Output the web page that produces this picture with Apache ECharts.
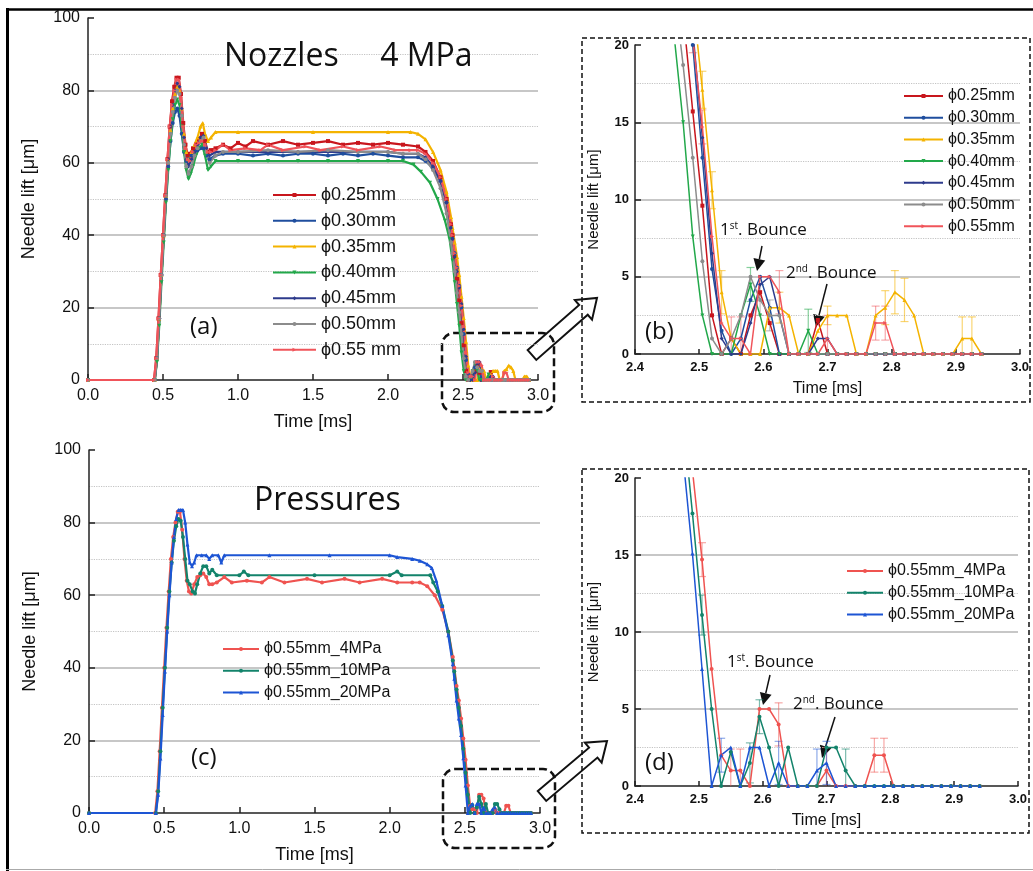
<!DOCTYPE html>
<html>
<head>
<meta charset="utf-8">
<title>Needle lift</title>
<script src="https://cdn.jsdelivr.net/npm/echarts@6/dist/echarts.min.js"></script>
</head>
<body style="margin:0;background:#fff">
<div id="main" style="width:1033px;height:871px;"></div>
<script type="text/javascript">

// ---- data ----
var nozzleNames = ['ϕ0.25mm', 'ϕ0.30mm', 'ϕ0.35mm', 'ϕ0.40mm', 'ϕ0.45mm', 'ϕ0.50mm', 'ϕ0.55mm'];
var nozzleNamesMain = ['ϕ0.25mm', 'ϕ0.30mm', 'ϕ0.35mm', 'ϕ0.40mm', 'ϕ0.45mm', 'ϕ0.50mm', 'ϕ0.55 mm'];
var pressureNames = ['ϕ0.55mm_4MPa', 'ϕ0.55mm_10MPa', 'ϕ0.55mm_20MPa'];

// closing / bounce region sample times [ms]
var tTail = [2.445,2.46,2.475,2.49,2.505,2.52,2.535,2.55,2.565,2.58,2.595,2.61,2.625,2.64,2.655,2.67,2.685,2.7,
             2.715,2.73,2.745,2.76,2.775,2.79,2.805,2.82,2.835,2.85,2.865,2.88,2.895,2.91,2.925,2.94];

// opening + plateau [t, lift]
var body025 = [[0,0],[0.44,0],[0.455,6],[0.47,17],[0.485,29],[0.5,40],[0.515,51],[0.53,61],[0.545,70],[0.56,77],[0.575,81],[0.59,83.5],[0.605,83.5],[0.62,79],[0.635,71],[0.65,65],[0.665,62],[0.68,62.5],[0.7,64],[0.72,65],[0.74,66.5],[0.76,68],[0.78,66],[0.8,63],[0.82,63.5],[0.85,64],[0.9,65],[0.95,64],[1.0,65.5],[1.05,64.5],[1.1,66],[1.2,65],[1.3,66],[1.4,65],[1.5,65.5],[1.6,66],[1.7,65],[1.8,65.5],[1.9,65],[2.0,65.5],[2.1,65],[2.2,64.5],[2.25,63],[2.3,60.5],[2.35,56],[2.39,50],[2.42,43],[2.43,40]];
var body030 = [[0,0],[0.445,0],[0.46,6],[0.475,17],[0.49,29],[0.505,40],[0.52,50],[0.535,59],[0.55,66],[0.565,71],[0.58,74],[0.595,75],[0.61,73],[0.625,68],[0.64,63],[0.655,60.5],[0.67,61],[0.69,62],[0.71,63],[0.73,63.5],[0.75,64],[0.77,64],[0.79,62],[0.81,61],[0.85,62],[0.9,62.5],[1.0,62.5],[1.1,62],[1.2,62.5],[1.3,62],[1.4,62.5],[1.5,62.5],[1.6,62],[1.7,62.5],[1.8,62],[1.9,62.5],[2.0,62],[2.1,61.5],[2.2,61.5],[2.25,60.5],[2.3,58.5],[2.35,55],[2.39,49],[2.42,42],[2.43,39]];
var body035 = [[0,0],[0.445,0],[0.46,6],[0.475,17],[0.49,29],[0.505,40],[0.52,51],[0.535,61],[0.55,69],[0.565,75],[0.58,79],[0.595,81],[0.61,80],[0.625,75],[0.64,68],[0.655,63],[0.67,61],[0.69,63],[0.71,65],[0.73,67],[0.75,70],[0.765,71],[0.78,68],[0.8,66],[0.82,67],[0.85,68.5],[1.0,68.5],[1.5,68.5],[2.0,68.5],[2.15,68.5],[2.2,68],[2.25,66.5],[2.3,63],[2.35,58],[2.39,52],[2.42,45],[2.43,42]];
var body040 = [[0,0],[0.445,0],[0.46,5],[0.475,15],[0.49,27],[0.505,38],[0.52,49],[0.535,58],[0.55,66],[0.565,72],[0.58,76],[0.595,77.5],[0.61,76],[0.625,70],[0.64,63],[0.655,58],[0.67,55.5],[0.685,57],[0.7,59],[0.72,62],[0.74,64],[0.76,65],[0.78,62],[0.8,58],[0.82,59],[0.85,60.5],[1.0,60.5],[1.2,60.5],[1.4,60.5],[1.6,60.5],[1.8,60.5],[2.0,60.5],[2.1,60.5],[2.17,59.5],[2.22,57.5],[2.28,54.5],[2.33,50],[2.38,44],[2.41,39],[2.43,33]];
var body045 = [[0,0],[0.445,0],[0.46,6],[0.475,17],[0.49,29],[0.505,40],[0.52,51],[0.535,61],[0.55,70],[0.565,76],[0.58,80],[0.595,82],[0.61,81],[0.625,75],[0.64,67],[0.655,61],[0.67,59],[0.69,61],[0.71,63],[0.73,65],[0.75,67],[0.77,67.5],[0.79,64],[0.81,62],[0.85,63],[1.0,63],[1.2,63],[1.4,63],[1.6,63],[1.8,63],[2.0,63],[2.1,62.5],[2.2,62.5],[2.25,61.5],[2.3,59],[2.35,55],[2.39,49],[2.42,42],[2.43,39]];
var body050 = [[0,0],[0.445,0],[0.46,6],[0.475,17],[0.49,29],[0.505,40],[0.52,51],[0.535,60],[0.55,68],[0.565,74],[0.58,78],[0.595,80],[0.61,79],[0.625,73],[0.64,65],[0.655,59],[0.67,57],[0.69,59],[0.71,62],[0.73,64],[0.75,66],[0.77,67],[0.79,63],[0.81,60],[0.85,62],[0.9,63],[1.0,63],[1.2,63.5],[1.4,63],[1.6,63.5],[1.8,63],[2.0,63],[2.1,62.5],[2.2,62.5],[2.25,61],[2.3,58],[2.35,53],[2.39,46],[2.42,38],[2.43,35]];
var body055 = [[0,0],[0.44,0],[0.455,6],[0.47,17],[0.485,29],[0.5,40],[0.515,51],[0.53,61],[0.545,70],[0.56,76],[0.575,80],[0.59,83],[0.605,83],[0.62,78],[0.635,70],[0.65,64],[0.665,61],[0.68,60.5],[0.7,63],[0.72,65],[0.74,65.5],[0.76,66],[0.78,65],[0.8,63],[0.82,63],[0.85,63.5],[0.9,65],[0.95,63.5],[1.05,64],[1.15,63.5],[1.2,65],[1.3,63.5],[1.45,64.5],[1.55,63.5],[1.7,64.5],[1.8,63.5],[1.95,64.5],[2.05,63.5],[2.15,63.5],[2.2,63.5],[2.25,62.5],[2.3,60],[2.35,56],[2.39,50],[2.42,43],[2.43,40]];
var body10 = [[0,0],[0.445,0],[0.46,6],[0.475,17],[0.49,29],[0.505,40],[0.52,51],[0.535,61],[0.55,69],[0.565,75],[0.58,79],[0.595,81],[0.61,80.5],[0.625,76],[0.64,70],[0.655,64],[0.67,63],[0.69,61],[0.705,60.5],[0.72,63],[0.74,66],[0.76,68],[0.78,68],[0.8,66],[0.82,67],[0.85,65.5],[1.0,65.5],[1.03,66.5],[1.06,65.5],[1.5,65.5],[2.0,65.5],[2.05,66.5],[2.08,65.5],[2.27,65.5],[2.29,63.5],[2.32,61],[2.35,57],[2.39,50],[2.42,42],[2.43,39]];
var body20 = [[0,0],[0.445,0],[0.46,5],[0.475,15],[0.49,27],[0.505,39],[0.52,50],[0.535,60],[0.55,69],[0.565,76],[0.58,81],[0.595,83.5],[0.61,83.5],[0.625,83.5],[0.64,80],[0.655,74],[0.67,69],[0.685,68],[0.7,69],[0.715,71],[0.75,71],[0.78,71],[0.8,70],[0.82,71],[0.86,71],[0.88,69],[0.9,71],[1.2,71],[1.6,71],[2.0,71],[2.05,70.5],[2.15,70],[2.2,69.5],[2.25,68.5],[2.28,67.5],[2.31,64],[2.35,57],[2.39,49],[2.42,41],[2.43,37]];

// lift at tTail
var tail025 = [34,28,22,15.7,9.6,2.5,0,1,0,2.5,4,2,0,0,0,0,2.2,0,0,0,0,0,0,0,0,0,0,0,0,0,0,0,0,0];
var tail030 = [35,31,26,20,12.7,5.5,1.5,0,1,3.5,5,3,0,0,0,0,0,0,0,0,0,0,0,0,0,0,0,0,0,0,0,0,0,0];
var tail035 = [38,34,29,23,17.1,10.6,4,1,0,0,0,3,3,2.5,0,0,1.5,2.5,2.5,2.5,0,0,2.5,3,4,3.5,2.5,0,0,0,0,1,1,0];
var tail040 = [27,21,15,7.6,2.5,0,0,0,2.5,4.5,2.5,0,0,0,0,1.5,0,0,0,0,0,0,0,0,0,0,0,0,0,0,0,0,0,0];
var tail045 = [34,30,25.5,21,14,6.5,1,0,0,2,4.5,5,2.5,0,0,0,1,1,0,0,0,0,0,0,0,0,0,0,0,0,0,0,0,0];
var tail050 = [30,24,18.7,12.7,6,1,0,1,2.5,5,3.5,2.5,2.5,0,0,0,0,0,0,0,0,0,0,0,0,0,0,0,0,0,0,0,0,0];
var tail055 = [35,31,26,20.5,14.7,7.6,2,1,1,0,5,5,4,0,0,0,0,1,0,0,0,0,2,2,0,0,0,0,0,0,0,0,0,0];
var tail10  = [34,29,24,17.7,11.1,5,0,2.2,0,1.5,4.5,2.5,0,2.5,0,0,0,2.5,2.5,1,0,0,0,0,0,0,0,0,0,0,0,0,0,0];
var tail20  = [31,26,21.5,15.1,7.6,0,2,2.5,0,2.5,2.5,0,1.5,0,0,0,1,1.5,0,0,0,0,0,0,0,0,0,0,0,0,0,0,0,0];

// error bars in the zoomed views [t, lift, ±]
var errNozzle = [
  [], [],
  [[2.505,17.1,1.2],[2.52,10.6,1.2],[2.535,4,1.4],[2.625,3,1],[2.7,2.5,0.6],[2.79,3,1.1],[2.805,4,1.4],[2.82,3.5,1.4],[2.91,1,1.4],[2.925,1,1.4]],
  [[2.58,4.5,1.1],[2.67,1.5,1.4]],
  [],
  [[2.595,3.5,1],[2.61,2.5,1]],
  [[2.49,20.5,1],[2.505,14.7,1.1],[2.55,1,1.4],[2.565,1,1.4],[2.625,4,1.4],[2.7,1,1.5],[2.775,2,1.1],[2.79,2,1.1]]
];
var errPressure = [
  [[2.505,14.7,1.1],[2.55,1,1.4],[2.565,1,1.4],[2.625,4,1.4],[2.7,1,1.5],[2.775,2,1.1],[2.79,2,1.1]],
  [[2.505,11.1,1.3],[2.58,1.5,1.3],[2.595,4.5,1.1],[2.73,1,1.4]],
  [[2.535,2,1.1],[2.625,1.5,1.4],[2.685,1,1.4],[2.7,1.5,1.4]]
];

function build(body, tail) {
  return body.concat(tTail.map(function (t, i) { return [t, tail[i]]; }));
}
var nozzleData = [build(body025, tail025), build(body030, tail030), build(body035, tail035), build(body040, tail040),
                  build(body045, tail045), build(body050, tail050), build(body055, tail055)];
var pressureData = [build(body055, tail055), build(body10, tail10), build(body20, tail20)];

// ---- styles ----
var nozzleColors = ['#c8161d', '#1f4e9e', '#f4b300', '#22a84a', '#2e3b8c', '#8c8c8c', '#f0545a'];
var nozzleErrColors = ['', '', 'rgba(244,179,0,0.55)', 'rgba(34,168,74,0.55)', '', 'rgba(140,140,140,0.55)', 'rgba(240,84,90,0.5)'];
var nozzleSymbols = ['rect', 'circle', 'triangle', 'path://M0,0L10,0L5,9Z', 'diamond', 'circle', 'triangle'];
var nozzleRot = [0, 0, 0, 0, 0, 0, -90];
var pressureColors = ['#ef5350', '#13836b', '#1d55d4'];
var pressureErrColors = ['rgba(239,83,80,0.5)', 'rgba(19,131,107,0.55)', 'rgba(29,85,212,0.5)'];
var pressureSymbols = ['circle', 'circle', 'triangle'];

var FONT = 'Liberation Sans';

var dom = document.getElementById('main');
var myChart = echarts.init(dom);

function xAx(gi, min, max, step, main) {
  return {
    type: 'value', gridIndex: gi, min: min, max: max, interval: step,
    name: 'Time [ms]', nameLocation: 'middle', nameGap: main ? 33 : 27,
    nameTextStyle: {color: '#111', fontSize: main ? 18 : 16, fontFamily: FONT},
    axisLine: {onZero: false, lineStyle: {color: '#222', width: 1.5}},
    axisTick: {inside: true, length: main ? 6 : 5, lineStyle: {color: '#222', width: 1.5}},
    axisLabel: {color: '#111', fontSize: main ? 16 : 13, fontWeight: main ? 'normal' : 'bold', margin: main ? 8 : 7,
                fontFamily: FONT, formatter: function (v) { return v.toFixed(1); }},
    splitLine: {show: false}
  };
}
function yAx(gi, max, step, main) {
  return {
    type: 'value', gridIndex: gi, min: 0, max: max, interval: step,
    name: 'Needle lift [μm]', nameLocation: 'middle', nameGap: main ? 50 : 34,
    nameTextStyle: {color: '#111', fontSize: main ? 18 : 15, fontFamily: FONT},
    axisLine: {show: true, lineStyle: {color: '#222', width: 1.5}},
    axisTick: {show: true, inside: true, length: 6, lineStyle: {color: '#222', width: 1.5}},
    axisLabel: {color: '#111', fontSize: main ? 16 : 13, fontWeight: main ? 'normal' : 'bold', margin: main ? 8 : 6, fontFamily: FONT},
    splitLine: {show: true, showMinLine: false, showMaxLine: false, lineStyle: {color: '#b5b5b5', width: 1.5}},
    minorTick: {show: false, splitNumber: 2},
    minorSplitLine: {show: true, lineStyle: {color: '#c4c4c4', type: 'dotted', width: 1.2}}
  };
}

function lineSeries(name, data, gi, color, symbol, rot, main) {
  return {
    type: 'line', name: name, data: data, xAxisIndex: gi, yAxisIndex: gi,
    symbol: symbol, symbolRotate: rot, symbolSize: main ? 4 : 4, showAllSymbol: true,
    lineStyle: {width: main ? 2.2 : 1.5, color: color}, itemStyle: {color: color},
    clip: true, animation: false, silent: true
  };
}
function errSeries(list, gi, color) {
  return {
    type: 'custom', xAxisIndex: gi, yAxisIndex: gi, clip: true, silent: true, z: 1,
    data: list.map(function (e) { return [e[0], e[1] - e[2], e[1] + e[2]]; }),
    encode: {x: 0, y: [1, 2]},
    renderItem: function (params, api) {
      var lo = api.coord([api.value(0), api.value(1)]);
      var hi = api.coord([api.value(0), api.value(2)]);
      var w = 4, st = {stroke: color, lineWidth: 1.2};
      return {type: 'group', children: [
        {type: 'line', shape: {x1: lo[0], y1: lo[1], x2: hi[0], y2: hi[1]}, style: st},
        {type: 'line', shape: {x1: lo[0] - w, y1: lo[1], x2: lo[0] + w, y2: lo[1]}, style: st},
        {type: 'line', shape: {x1: hi[0] - w, y1: hi[1], x2: hi[0] + w, y2: hi[1]}, style: st}
      ]};
    }
  };
}

var series = [];
nozzleData.forEach(function (d, i) {
  series.push(lineSeries(nozzleNamesMain[i], d, 0, nozzleColors[i], nozzleSymbols[i], nozzleRot[i], true));
});
nozzleData.forEach(function (d, i) {
  if (errNozzle[i].length) series.push(errSeries(errNozzle[i], 1, nozzleErrColors[i]));
});
nozzleData.forEach(function (d, i) {
  series.push(lineSeries(nozzleNames[i], d, 1, nozzleColors[i], nozzleSymbols[i], nozzleRot[i], false));
});
pressureData.forEach(function (d, i) {
  series.push(lineSeries(pressureNames[i], d, 2, pressureColors[i], pressureSymbols[i], 0, true));
});
pressureData.forEach(function (d, i) {
  series.push(errSeries(errPressure[i], 3, pressureErrColors[i]));
  series.push(lineSeries(pressureNames[i], d, 3, pressureColors[i], pressureSymbols[i], 0, false));
});

function legendAt(names, left, top, w, fs, gap) {
  return {
    data: names, left: left, top: top, orient: 'vertical', itemWidth: w, itemHeight: 5, itemGap: gap,
    selectedMode: false, padding: 0,
    textStyle: {fontSize: fs, color: '#111', fontFamily: FONT}
  };
}

// ---- annotations ----
function blockArrow(x0, y0, x1, y1) {
  var dx = x1 - x0, dy = y1 - y0, L = Math.sqrt(dx * dx + dy * dy), ux = dx / L, uy = dy / L, nx = -uy, ny = ux;
  var hw = 6.5, hh = 13, hl = 18;
  var pts = [[0, -hw], [L - hl, -hw], [L - hl, -hh], [L, 0], [L - hl, hh], [L - hl, hw], [0, hw]].map(function (p) {
    return [x0 + ux * p[0] + nx * p[1], y0 + uy * p[0] + ny * p[1]];
  });
  return {type: 'polygon', shape: {points: pts}, style: {fill: '#fff', stroke: '#111', lineWidth: 2}};
}
function pointer(x0, y0, x1, y1) {
  var dx = x1 - x0, dy = y1 - y0, L = Math.sqrt(dx * dx + dy * dy), ux = dx / L, uy = dy / L;
  var hl = 12, hw = 6, bx = x1 - ux * hl, by = y1 - uy * hl;
  return [
    {type: 'line', shape: {x1: x0, y1: y0, x2: bx, y2: by}, style: {stroke: '#111', lineWidth: 1.5}},
    {type: 'polygon', shape: {points: [[x1, y1], [bx - uy * hw, by + ux * hw], [bx + uy * hw, by - ux * hw]]}, style: {fill: '#111'}}
  ];
}
function bounce(x, y, n, sup) {
  return {type: 'text', x: x, y: y, z: 10, style: {
    text: n + '{s|' + sup + '}. Bounce', fontSize: 17, fontFamily: 'Open Sans', fill: '#111', verticalAlign: 'middle',
    rich: {s: {fontSize: 10, fontFamily: 'Open Sans', fill: '#111', verticalAlign: 'top'}}
  }};
}
function bigText(x, y, txt, fs) {
  return {type: 'text', x: x, y: y, z: 10, style: {text: txt, fontSize: fs, fontFamily: 'Open Sans', fill: '#111', verticalAlign: 'middle'}};
}

var graphics = [
  {type: 'line', shape: {x1: 6, y1: 9.5, x2: 1033, y2: 9.5}, style: {stroke: '#000', lineWidth: 2.5}},
  {type: 'line', shape: {x1: 7.5, y1: 8, x2: 7.5, y2: 871}, style: {stroke: '#000', lineWidth: 3}},
  {type: 'line', shape: {x1: 6, y1: 869.5, x2: 1033, y2: 869.5}, style: {stroke: '#aaa', lineWidth: 1}},
  blockArrow(532, 355, 597, 298),
  blockArrow(542, 796, 607, 741),
  {type: 'rect', shape: {x: 582, y: 38, width: 448, height: 364}, style: {fill: 'none', stroke: '#111', lineWidth: 1.5, lineDash: [5, 3]}},
  {type: 'rect', shape: {x: 582, y: 469, width: 447, height: 364}, style: {fill: 'none', stroke: '#111', lineWidth: 1.5, lineDash: [5, 3]}},
  {type: 'rect', shape: {x: 442, y: 333, width: 112, height: 79, r: 12}, style: {fill: 'none', stroke: '#111', lineWidth: 2.5, lineDash: [8, 4]}},
  {type: 'rect', shape: {x: 443, y: 769, width: 112, height: 79, r: 12}, style: {fill: 'none', stroke: '#111', lineWidth: 2.5, lineDash: [8, 4]}},
  bigText(224, 57, 'Nozzles     4 MPa', 32),
  bigText(254, 501, 'Pressures', 32),
  bigText(190, 327, '(a)', 24),
  bigText(191, 758, '(c)', 24),
  bigText(645, 332, '(b)', 24),
  bigText(645, 763, '(d)', 24),
  bounce(720, 230, '1', 'st'),
  bounce(786, 273, '2', 'nd'),
  bounce(727, 662, '1', 'st'),
  bounce(793, 704, '2', 'nd')
].concat(pointer(762, 246, 757, 271), pointer(827, 284, 816, 327), pointer(770, 675, 763, 705), pointer(835, 717, 822, 758));

var option = {
  animation: false,
  textStyle: {fontFamily: FONT},
  grid: [
    {left: 88, top: 18, width: 450, height: 362},
    {left: 635, top: 45, width: 385, height: 309},
    {left: 89, top: 450, width: 451, height: 363},
    {left: 635, top: 478, width: 383, height: 308}
  ],
  xAxis: [xAx(0, 0, 3, 0.5, true), xAx(1, 2.4, 3.0, 0.1, false), xAx(2, 0, 3, 0.5, true), xAx(3, 2.4, 3.0, 0.1, false)],
  yAxis: [yAx(0, 100, 20, true), yAx(1, 20, 5, false), yAx(2, 100, 20, true), yAx(3, 20, 5, false)],
  legend: [
    legendAt(nozzleNamesMain, 272, 186, 43, 18, 7.8),
    legendAt(nozzleNames, 903, 88, 39, 16, 5.7),
    legendAt(pressureNames, 222, 641, 36, 16, 5.7),
    legendAt(pressureNames, 846, 563, 36, 16, 5.8)
  ],
  graphic: graphics,
  series: series
};

if (option && typeof option === 'object') {
  myChart.setOption(option, true);
}
</script>
</body>
</html>
